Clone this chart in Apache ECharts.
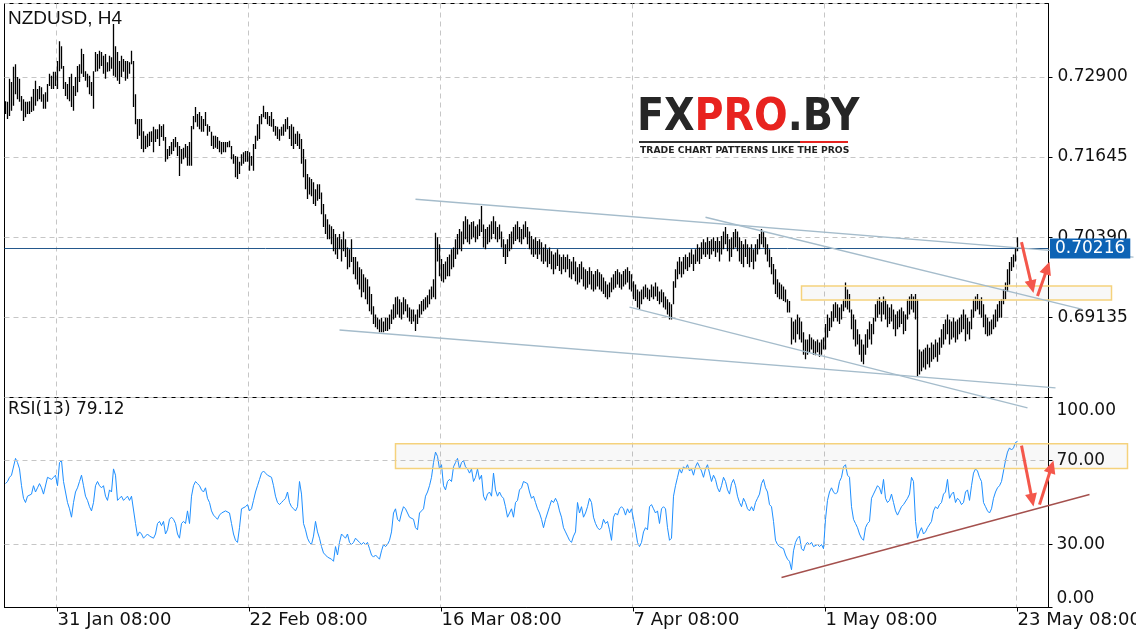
<!DOCTYPE html>
<html><head><meta charset="utf-8">
<script src="https://cdn.jsdelivr.net/npm/echarts@6/dist/echarts.min.js"></script>
<style>html,body{margin:0;padding:0;background:#fff}#c{width:1136px;height:640px}</style>
</head><body><div id="c"></div>
<script>
// NZDUSD H4 bar highs / lows, in pips (price = pips / 10000)
const highs = [
7252,7251,7287,7282,7306,7310,7290,7287,7260,7255,
7251,7251,7252,7259,7271,7284,7271,7276,7274,7263,
7266,7279,7295,7292,7298,7298,7315,7346,7338,7307,
7282,7279,7290,7295,7276,7290,7307,7310,7334,7326,
7299,7295,7292,7282,7299,7329,7326,7331,7329,7323,
7326,7313,7323,7321,7373,7338,7329,7315,7323,7318,
7315,7315,7313,7331,7315,7263,7224,7224,7224,7205,
7198,7201,7204,7205,7212,7208,7208,7216,7213,7216,
7196,7177,7182,7188,7193,7196,7188,7182,7177,7179,
7185,7182,7188,7213,7229,7243,7232,7235,7229,7224,
7235,7216,7213,7204,7198,7198,7196,7190,7188,7188,
7188,7188,7190,7182,7169,7166,7165,7157,7169,7172,
7174,7174,7172,7166,7185,7198,7216,7229,7232,7245,
7235,7235,7229,7235,7224,7213,7212,7208,7212,7216,
7224,7227,7213,7216,7212,7201,7205,7201,7193,7177,
7161,7138,7133,7130,7125,7114,7122,7122,7109,7091,
7075,7067,7059,7056,7052,7044,7039,7044,7036,7048,
7036,7023,7020,7036,7008,7008,7001,6992,6989,6981,
6976,6973,6962,6950,6931,6918,6913,6910,6913,6907,
6913,6913,6918,6926,6934,6945,6946,6942,6937,6945,
6942,6934,6929,6926,6926,6918,6926,6934,6939,6942,
6945,6948,6957,6962,6973,7046,7039,7028,7005,6997,
7001,7008,7012,7020,7023,7036,7044,7052,7048,7064,
7072,7067,7059,7063,7064,7056,7059,7067,7088,7059,
7052,7055,7059,7064,7072,7064,7055,7059,7048,7036,
7028,7036,7044,7048,7055,7059,7064,7055,7052,7059,
7064,7055,7048,7041,7036,7039,7033,7036,7031,7023,
7028,7020,7023,7017,7012,7015,7020,7012,7008,7012,
7008,7012,7005,7001,7008,7001,6992,6997,7001,6992,
6989,6986,6992,6986,6981,6986,6989,6984,6981,6976,
6970,6965,6968,6976,6981,6986,6989,6984,6981,6986,
6989,6992,6986,6981,6970,6965,6957,6954,6957,6962,
6965,6960,6957,6965,6962,6968,6962,6954,6957,6953,
6946,6942,6937,6934,6970,6989,7001,7008,7001,7008,
7012,7008,7015,7020,7012,7020,7028,7023,7031,7036,
7031,7039,7033,7036,7039,7033,7039,7033,7041,7048,
7055,7044,7036,7039,7047,7052,7048,7039,7033,7028,
7036,7028,7023,7028,7020,7028,7036,7044,7052,7048,
7039,7028,7020,7008,6997,6989,6973,6968,6965,6962,
6957,6942,6939,6913,6907,6910,6918,6913,6907,6890,
6879,6879,6887,6882,6879,6876,6879,6874,6879,6882,
6903,6918,6913,6923,6934,6937,6934,6929,6934,6942,
6968,6957,6950,6926,6918,6910,6895,6887,6879,6871,
6887,6895,6907,6903,6913,6934,6942,6945,6937,6946,
6942,6934,6929,6934,6926,6918,6923,6926,6929,6923,
6918,6942,6946,6950,6946,6950,6942,6863,6860,6863,
6866,6871,6866,6874,6871,6879,6874,6882,6895,6903,
6910,6918,6910,6907,6913,6907,6910,6913,6918,6926,
6918,6913,6907,6926,6942,6946,6950,6942,6945,6934,
6918,6913,6907,6910,6918,6926,6934,6939,6942,6957,
6968,6989,7000,7008,7012,7023,7039
];
const lows = [
7232,7224,7229,7237,7245,7263,7255,7251,7237,7221,
7227,7232,7232,7235,7237,7245,7252,7255,7251,7240,
7240,7251,7276,7271,7271,7276,7271,7299,7303,7271,
7260,7255,7252,7243,7237,7260,7266,7282,7295,7290,
7284,7274,7263,7260,7240,7298,7299,7303,7307,7295,
7287,7298,7299,7303,7292,7290,7284,7279,7290,7298,
7284,7287,7295,7310,7243,7216,7193,7198,7177,7172,
7177,7180,7182,7188,7172,7188,7193,7182,7196,7190,
7157,7161,7166,7169,7174,7180,7166,7135,7154,7161,
7164,7151,7151,7151,7208,7219,7212,7208,7204,7204,
7213,7198,7204,7182,7177,7179,7177,7172,7169,7172,
7172,7180,7180,7161,7154,7133,7130,7138,7151,7154,
7157,7157,7143,7151,7143,7177,7190,7193,7216,7227,
7224,7216,7213,7212,7204,7198,7193,7190,7198,7198,
7204,7208,7193,7182,7177,7185,7182,7177,7154,7133,
7114,7099,7106,7103,7091,7088,7096,7099,7075,7055,
7044,7036,7036,7028,7017,7012,7005,7020,7001,7017,
7008,6989,6992,7000,6981,6973,6965,6957,6945,6953,
6942,6934,6923,6918,6903,6898,6895,6890,6890,6890,
6892,6892,6895,6903,6910,6913,6918,6913,6910,6918,
6923,6913,6907,6903,6907,6892,6903,6913,6918,6923,
6926,6929,6934,6942,6945,6942,7001,6978,6970,6968,
6973,6978,6978,6989,6992,7005,7012,7020,7017,7028,
7036,7031,7028,7036,7039,7031,7036,7041,7047,7023,
7020,7028,7031,7036,7044,7036,7031,7036,7023,7008,
6997,7008,7017,7020,7028,7033,7036,7031,7028,7036,
7039,7028,7020,7012,7008,7012,7005,7012,7001,6997,
7001,6992,6997,6989,6981,6989,6994,6986,6981,6989,
6984,6989,6976,6973,6981,6970,6965,6968,6973,6962,
6957,6960,6965,6957,6954,6957,6962,6957,6954,6950,
6945,6942,6945,6953,6957,6960,6965,6960,6957,6962,
6965,6968,6957,6954,6942,6939,6929,6926,6934,6942,
6945,6942,6939,6945,6942,6946,6939,6934,6937,6929,
6926,6918,6910,6910,6934,6960,6973,6981,6976,6981,
6989,6986,6992,6997,6986,6997,7001,6997,7005,7012,
7008,7012,7005,7012,7017,7008,7015,7001,7012,7020,
7028,7017,7001,7008,7020,7023,7017,7001,6997,6992,
7008,6997,6992,7000,6989,7001,7012,7020,7028,7023,
7012,7001,6992,6981,6965,6950,6945,6942,6942,6939,
6937,6921,6921,6871,6879,6874,6887,6879,6874,6855,
6848,6855,6859,6863,6855,6854,6859,6852,6855,6863,
6863,6882,6892,6898,6907,6913,6907,6903,6910,6923,
6929,6926,6921,6895,6879,6868,6871,6855,6844,6840,
6855,6866,6879,6871,6887,6907,6913,6918,6907,6918,
6910,6898,6903,6907,6895,6884,6895,6898,6903,6887,
6892,6910,6918,6926,6921,6910,6821,6824,6829,6835,
6832,6840,6835,6844,6848,6851,6844,6855,6866,6871,
6879,6887,6871,6879,6882,6874,6879,6887,6890,6895,
6876,6887,6879,6895,6913,6923,6926,6918,6913,6898,
6887,6884,6885,6887,6895,6898,6907,6913,6913,6934,
6942,6954,6965,6986,6992,7001,7017
];
// RSI(13)
const rsi = [
59,60,62,63,63,71,69,66,58,52,
50,53,53,54,58,55,57,59,57,54,
54,62,62,61,62,63,58,69,70,60,
55,50,47,43,50,55,57,60,63,58,
53,51,48,46,50,58,60,58,57,58,
53,51,56,55,66,63,51,52,53,51,
52,53,51,53,53,40,34,36,35,33,
34,35,34,34,33,35,40,41,39,41,
35,37,42,43,42,40,35,33,40,41,
40,46,40,53,58,60,59,58,56,55,
57,52,50,46,44,43,42,44,45,45,
46,46,45,40,35,32,31,38,47,47,
48,49,46,47,51,55,58,61,64,65,
64,63,63,62,58,53,50,49,50,51,
52,55,50,48,47,46,48,60,54,40,
37,33,31,30,34,41,36,33,29,26,
25,24,24,23,22,29,25,31,35,34,
33,35,31,30,31,33,33,31,30,31,
30,31,28,25,24,25,24,23,27,30,
29,30,32,36,45,47,42,41,45,48,
47,45,43,43,42,38,37,45,46,47,
53,55,58,62,69,74,72,66,68,58,
56,60,61,60,67,69,71,66,69,70,
67,66,64,66,60,62,66,61,63,53,
51,54,55,53,64,56,53,55,53,52,
48,43,45,47,43,50,51,56,57,60,
60,59,55,52,53,50,47,45,42,38,
42,45,48,51,50,52,50,46,43,38,
36,34,32,31,34,36,50,45,48,43,
45,48,52,50,43,40,38,37,38,42,
40,41,37,32,43,45,44,47,48,47,
44,47,45,47,42,37,31,29,31,36,
38,37,48,49,47,45,46,40,47,48,
47,38,32,33,53,58,62,66,64,67,
66,68,65,66,63,67,69,67,65,62,
66,68,64,60,63,61,57,55,58,62,
60,56,54,59,61,58,53,50,48,52,
50,47,46,48,46,50,52,54,59,61,
57,55,49,48,41,32,30,29,29,28,
25,23,22,18,27,31,33,34,28,27,
30,31,30,31,29,29,30,29,30,28,
42,51,55,57,55,54,55,60,62,67,
68,63,62,48,42,40,38,35,33,32,
38,40,41,52,54,56,58,57,54,61,
52,50,51,54,50,46,44,46,48,49,
49,52,54,62,60,41,33,36,38,35,
36,38,38,41,46,48,47,49,50,54,
55,61,52,54,55,50,52,51,49,50,
55,56,51,58,64,66,65,62,60,50,
48,46,45,47,52,55,57,58,60,65,
70,74,76,75,76,78.6,79.12
];
const tickLabels = ['31 Jan 08:00','22 Feb 08:00','16 Mar 08:00','7 Apr 08:00','1 May 08:00','23 May 08:00'];
const priceTicks = [0.69135, 0.70390, 0.71645, 0.72900];
const rsiTicks = [0, 30, 70, 100];
const rsiLevels = [30, 70];
const lastPrice = 0.70216;
const rsiLast = 79.12;
const shiftBars = 15;

// annotations in data coordinates: [bar index, value]
const trendLines = [
  [[205, 0.70985], [563.5, 0.70078]],
  [[350, 0.70703], [537.5, 0.69265]],
  [[166.5, 0.68937], [525, 0.68030]],
  [[311.5, 0.69296], [510.5, 0.67717]]
];
const zoneMain = [[397.5, 0.69625], [552.5, 0.69406]];
const zoneRsi = [[195, 77.95], [561, 66.2]];
const rsiSupport = [[387.5, 14.3], [541.5, 53.8]];
const arrowsMain = [[[508, 0.70312], [514, 0.69515]], [[516, 0.69468], [522, 0.70005]]];
const arrowsRsi = [[[508, 77.1], [514, 48.1]], [[517, 49.0], [524, 70.0]]];

// H4 categories, weekdays only
const MONTHS = ['Jan','Feb','Mar','Apr','May','Jun','Jul','Aug','Sep','Oct','Nov','Dec'];
function buildCategories(n) {
  const out = [];
  let t = Date.UTC(2017, 0, 25, 0);
  while (out.length < n) {
    const d = new Date(t);
    const wd = d.getUTCDay();
    if (wd !== 0 && wd !== 6) {
      const hh = String(d.getUTCHours()).padStart(2, '0');
      out.push(d.getUTCDate() + ' ' + MONTHS[d.getUTCMonth()] + ' ' + hh + ':00');
    }
    t += 4 * 3600 * 1000;
  }
  return out;
}
const categories = buildCategories(highs.length + shiftBars);
const isTick = (i, v) => tickLabels.indexOf(v) >= 0;

const FONT = 'DejaVu Sans';
const gridLine = { color: '#c6c6c6', type: [5, 4], width: 1 };

const chart = echarts.init(document.getElementById('c'), null, { renderer: 'canvas' });
chart.setOption({
  animation: false,
  backgroundColor: '#fff',
  grid: [
    { left: 4.5, top: 3.5, width: 1044, height: 394, show: true, borderColor: '#000', borderWidth: 1, backgroundColor: 'transparent', containLabel: false, outerBoundsMode: 'none' },
    { left: 4.5, top: 397.5, width: 1044, height: 210, show: true, borderColor: '#000', borderWidth: 1, backgroundColor: 'transparent', containLabel: false, outerBoundsMode: 'none' }
  ],
  xAxis: [
    { gridIndex: 0, type: 'category', data: categories, boundaryGap: true,
      axisLine: { show: false }, axisTick: { show: false }, axisLabel: { show: false },
      splitLine: { show: true, interval: isTick, lineStyle: gridLine } },
    { gridIndex: 1, type: 'category', data: categories, boundaryGap: true,
      axisLine: { show: true, lineStyle: { color: '#000', width: 1 } },
      axisTick: { show: true, interval: isTick, alignWithLabel: true, length: 4, lineStyle: { color: '#000' } },
      axisLabel: { show: true, interval: isTick, align: 'left', margin: 4, color: '#111', fontFamily: FONT, fontSize: 18 },
      splitLine: { show: true, interval: isTick, lineStyle: gridLine } }
  ],
  yAxis: [
    { gridIndex: 0, type: 'value', position: 'right', min: 0.6788, max: 0.7405, interval: 0.01255,
      axisLine: { show: true, lineStyle: { color: '#000' } },
      axisTick: { show: true, length: 4, lineStyle: { color: '#000' } },
      axisLabel: { margin: 9, color: '#111', fontFamily: FONT, fontSize: 17, showMinLabel: false, showMaxLabel: false,
        formatter: v => priceTicks.some(t => Math.abs(t - v) < 1e-6) ? v.toFixed(5) : '' },
      splitLine: { show: true, lineStyle: gridLine } },
    { gridIndex: 1, type: 'value', position: 'right', min: 0, max: 100, interval: 10,
      axisLine: { show: true, lineStyle: { color: '#000' } },
      axisTick: { show: true, length: 4, customValues: rsiTicks, lineStyle: { color: '#000' } },
      axisLabel: { margin: 8, color: '#111', fontFamily: FONT, fontSize: 17, customValues: rsiTicks,
        verticalAlignMaxLabel: 'top', verticalAlignMinLabel: 'bottom',
        rich: { top: { padding: [5, 0, 0, 0], fontFamily: FONT, fontSize: 17, color: '#111' } },
        formatter: v => rsiTicks.indexOf(v) < 0 ? '' :
          (v === 100 ? '{top|' + v.toFixed(2) + '}' : v.toFixed(2)) },
      splitLine: { show: false } }
  ],
  series: [
    { type: 'custom', xAxisIndex: 0, yAxisIndex: 0, clip: true, z: 3,
      data: highs.map((h, i) => [i, h / 10000, lows[i] / 10000]),
      encode: { x: 0, y: [1, 2] },
      renderItem: (params, api) => {
        const hi = api.coord([api.value(0), api.value(1)]);
        const lo = api.coord([api.value(0), api.value(2)]);
        return { type: 'line', shape: { x1: hi[0], y1: hi[1], x2: lo[0], y2: lo[1] },
          style: { stroke: '#000', lineWidth: 1.3 } };
      } },
    { type: 'line', xAxisIndex: 1, yAxisIndex: 1, data: rsi, symbol: 'none', smooth: false,
      lineStyle: { color: '#1e8fff', width: 1 }, itemStyle: { color: '#1e8fff' },
      markLine: { silent: true, symbol: 'none', animation: false, label: { show: false },
        data: rsiLevels.map(v => ({ yAxis: v })), lineStyle: gridLine } }
  ]
});

// annotations
const px0 = p => chart.convertToPixel({ gridIndex: 0 }, p);
const px1 = p => chart.convertToPixel({ gridIndex: 1 }, p);
const g = [];
function addLine(a, b, color, w, z) {
  g.push({ type: 'line', z: z || 50, silent: true, shape: { x1: a[0], y1: a[1], x2: b[0], y2: b[1] }, style: { stroke: color, lineWidth: w } });
}
function addRect(a, b) {
  g.push({ type: 'rect', z: 40, silent: true,
    shape: { x: Math.min(a[0], b[0]), y: Math.min(a[1], b[1]), width: Math.abs(b[0] - a[0]), height: Math.abs(b[1] - a[1]) },
    style: { fill: 'rgba(120,120,120,0.05)', stroke: '#f5d27c', lineWidth: 1.5 } });
}
function addArrow(a, b) {
  const dx = b[0] - a[0], dy = b[1] - a[1];
  const L = Math.hypot(dx, dy), ux = dx / L, uy = dy / L;
  const hl = 13, hw = 6;
  const bx = b[0] - ux * hl, by = b[1] - uy * hl;
  addLine(a, [bx + ux * 2, by + uy * 2], '#f4574b', 3);
  g.push({ type: 'polygon', z: 51, silent: true,
    shape: { points: [[b[0], b[1]], [bx - uy * hw, by + ux * hw], [bx + uy * hw, by - ux * hw]] },
    style: { fill: '#f4574b' } });
}
// current price line + price box
const cx0 = px0([0, lastPrice]);
const yPrice = Math.round(cx0[1]) + 0.5;
g.push({ type: 'line', z: 1, silent: true, shape: { x1: 4.5, y1: yPrice, x2: 1048.5, y2: yPrice }, style: { stroke: '#24588c', lineWidth: 1 } });
g.push({ type: 'text', z: 70, silent: true, x: 1050, y: yPrice, style: {
  text: lastPrice.toFixed(5), fill: '#fff', backgroundColor: '#0d63b5', padding: [2, 5, 1, 5], lineHeight: 17,
  font: '17px "DejaVu Sans"', verticalAlign: 'middle', align: 'left' } });

trendLines.forEach(l => addLine(px0(l[0]), px0(l[1]), '#a5bccb', 1.4));
addRect(px0(zoneMain[0]), px0(zoneMain[1]));
addRect(px1(zoneRsi[0]), px1(zoneRsi[1]));
addLine(px1(rsiSupport[0]), px1(rsiSupport[1]), '#a4504d', 1.4);
arrowsMain.forEach(a => addArrow(px0(a[0]), px0(a[1])));
arrowsRsi.forEach(a => addArrow(px1(a[0]), px1(a[1])));

// labels
g.push({ type: 'text', z: 60, x: 8, y: 19, style: { text: 'NZDUSD, H4', fill: '#111', font: '19px "Liberation Sans"', verticalAlign: 'middle' } });
g.push({ type: 'text', z: 60, x: 8, y: 410, style: { text: 'RSI(13) ' + rsiLast.toFixed(2), fill: '#111', font: '17px "DejaVu Sans"', verticalAlign: 'middle' } });

// logo
g.push({ type: 'rect', z: 30, silent: true, shape: { x: 634, y: 99, width: 230, height: 57 }, style: { fill: '#fff' } });
g.push({ type: 'text', z: 61, x: 637, y: 97, scaleX: 0.9, originX: 0, style: {
  text: '{a|FX}{b|PRO}{a|.BY}', verticalAlign: 'top',
  rich: { a: { fill: '#262626', font: 'bold 44px "DejaVu Sans"' }, b: { fill: '#e8231f', font: 'bold 44px "DejaVu Sans"' } } } });
g.push({ type: 'rect', z: 61, shape: { x: 639, y: 141, width: 161, height: 2 }, style: { fill: '#333' } });
g.push({ type: 'rect', z: 61, shape: { x: 800, y: 141, width: 48, height: 2 }, style: { fill: '#e5231f' } });
g.push({ type: 'text', z: 61, x: 640, y: 151, scaleX: 0.97, originX: 0, style: { text: 'TRADE CHART PATTERNS LIKE THE PROS', fill: '#222', font: 'bold 9.5px "DejaVu Sans"', verticalAlign: 'middle' } });

chart.setOption({ graphic: g });
</script>
</body></html>
